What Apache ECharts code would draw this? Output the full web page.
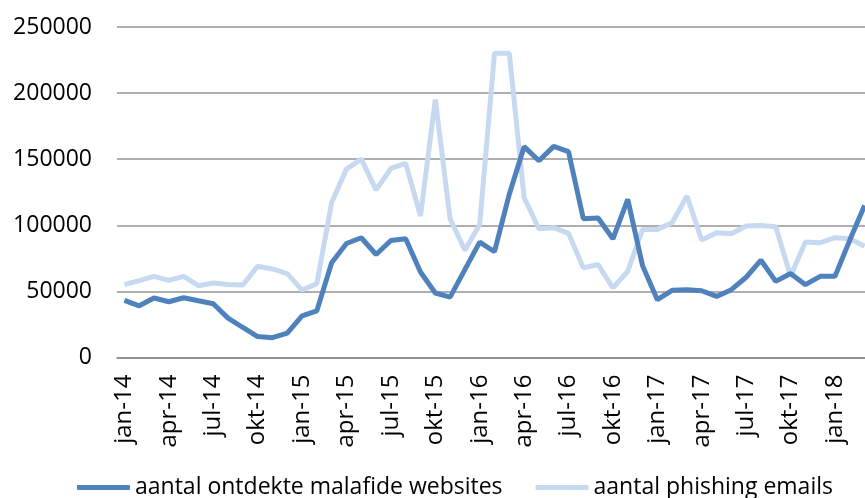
<!DOCTYPE html>
<html>
<head>
<meta charset="utf-8">
<script src="https://cdn.jsdelivr.net/npm/echarts@6/dist/echarts.min.js"></script>
<style>
  html, body { margin: 0; padding: 0; background: #fff; overflow: hidden; }
  /* plot area runs a few pixels past the right edge, as in the reference */
  #main { width: 872px; height: 498px; }
</style>
</head>
<body>
<div id="main"></div>
<script>
// maanden jan-14 t/m mrt-18
var maanden = ["jan", "feb", "mrt", "apr", "mei", "jun", "jul", "aug", "sep", "okt", "nov", "dec"];
var categories = [];
for (var j = 14; j <= 18; j++) {
  for (var m = 0; m < 12; m++) {
    if (j === 18 && m > 2) break;
    categories.push(maanden[m] + "-" + j);
  }
}

var malafideWebsites = [
  43200, 39100, 45000, 42200, 45200, 42900, 40700, 29800, 22700, 15800, 15000, 18400,
  31500, 35300, 71600, 86200, 90600, 77900, 88500, 89800, 64700, 48800, 45700, 66500,
  87300, 80000, 123500, 159500, 148800, 159700, 155700, 105000, 105500, 89800, 119700, 69500,
  43700, 50800, 51300, 50500, 46200, 51300, 60700, 73600, 57600, 63500, 55100, 61400,
  61400, 88800, 115000
];

var phishingEmails = [
  55100, 58100, 61400, 58400, 61400, 54300, 56400, 55300, 54800, 69000, 67000, 63500,
  51000, 55900, 117200, 142500, 150100, 126800, 143000, 146800, 107000, 195200, 105000, 81200,
  100700, 230200, 230200, 121000, 97400, 98200, 93900, 67800, 70300, 52600, 65200, 96900,
  96900, 102000, 122200, 88800, 94400, 93600, 99400, 99900, 98900, 61400, 87300, 86800,
  90600, 89800, 84200
];

var yTicks = { min: 0, max: 250000, interval: 50000 };

var fontFam = "'Open Sans', 'Noto Sans', sans-serif";
var chart = echarts.init(document.getElementById("main"));

var option = {
  animation: false,
  textStyle: { fontFamily: fontFam },
  grid: { left: 117, right: 0, top: 27, bottom: 140.5, containLabel: false },
  legend: {
    data: ["aantal ontdekte malafide websites", "aantal phishing emails"],
    left: 72,
    top: 471,
    itemWidth: 53,
    itemHeight: 5,
    itemGap: 33,
    icon: "roundRect",
    textStyle: { fontSize: 23, color: "#000", fontFamily: fontFam }
  },
  xAxis: {
    type: "category",
    data: categories,
    boundaryGap: true,
    axisLine: { lineStyle: { color: "#868686", width: 1.5 } },
    axisTick: { interval: 2, length: 7, lineStyle: { color: "#868686", width: 1.5 } },
    axisLabel: {
      interval: 2,
      rotate: 90,
      margin: 17,
      fontSize: 24,
      color: "#000",
      fontFamily: fontFam
    }
  },
  yAxis: {
    type: "value",
    min: yTicks.min,
    max: yTicks.max,
    interval: yTicks.interval,
    axisLine: { show: false },
    axisTick: { show: false },
    axisLabel: {
      margin: 25,
      fontSize: 23,
      color: "#000",
      fontFamily: fontFam,
      formatter: function (v) { return String(v); }
    },
    splitLine: { lineStyle: { color: "#959595", width: 1.5 } }
  },
  series: [
    {
      name: "aantal ontdekte malafide websites",
      type: "line",
      data: malafideWebsites,
      symbol: "none",
      z: 3,
      itemStyle: { color: "#4f81bd" },
      lineStyle: { width: 5, color: "#4f81bd" }
    },
    {
      name: "aantal phishing emails",
      type: "line",
      data: phishingEmails,
      symbol: "none",
      z: 2,
      itemStyle: { color: "#c6d9f1" },
      lineStyle: { width: 5, color: "#c6d9f1" }
    }
  ]
};

chart.setOption(option);
</script>
</body>
</html>
